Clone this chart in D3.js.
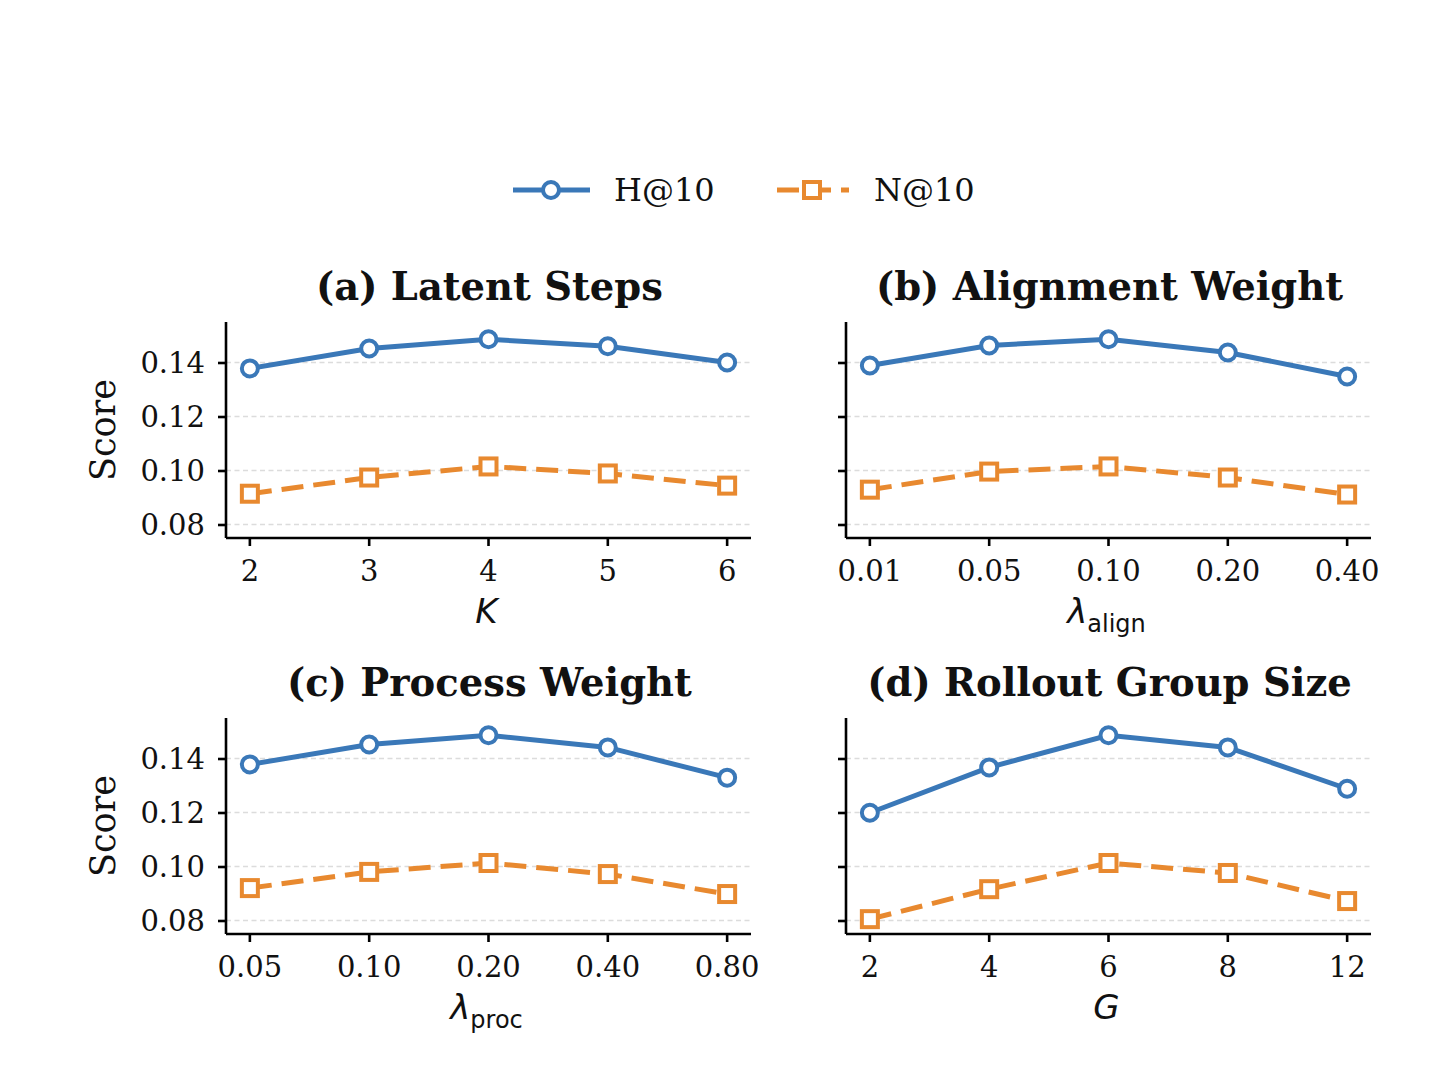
<!DOCTYPE html>
<html><head><meta charset="utf-8">
<script src="https://cdn.jsdelivr.net/npm/d3@7"></script>
<style>body{margin:0;background:#fff;} svg{display:block;}</style>
</head><body>
<svg id="chart" width="1450" height="1070"></svg>
<script>
// ---- data ----
const seriesNames = ["H@10", "N@10"];
const titles = ["(a) Latent Steps", "(b) Alignment Weight", "(c) Process Weight", "(d) Rollout Group Size"];
const xTicksA = ["2", "3", "4", "5", "6"];
const xTicksB = ["0.01", "0.05", "0.10", "0.20", "0.40"];
const xTicksC = ["0.05", "0.10", "0.20", "0.40", "0.80"];
const xTicksD = ["2", "4", "6", "8", "12"];
const hitA = [0.1378, 0.1452, 0.1486, 0.1460, 0.1400];
const ndcgA = [0.0914, 0.0974, 0.1015, 0.0989, 0.0944];
const hitB = [0.1389, 0.1463, 0.1486, 0.1437, 0.1348];
const ndcgB = [0.0929, 0.0996, 0.1015, 0.0974, 0.0911];
const hitC = [0.1378, 0.1452, 0.1486, 0.1441, 0.1329];
const ndcgC = [0.0920, 0.0980, 0.1013, 0.0972, 0.0898];
const hitD = [0.1199, 0.1367, 0.1486, 0.1441, 0.1288];
const ndcgD = [0.0805, 0.0916, 0.1013, 0.0976, 0.0872];
const yTicks = [0.08, 0.10, 0.12, 0.14];
const yDomain = [0.075, 0.155];

const BLUE = "#3a78b8", ORANGE = "#e8892f";
const svg = d3.select("#chart");
const SERIF = "'DejaVu Serif', serif";
const SANS = "'DejaVu Sans', sans-serif";

const panels = [
  {title: titles[0], ticks: xTicksA, h: hitA, n: ndcgA, x0: 226, y0: 322, ylab: true, xlab: ["K", null]},
  {title: titles[1], ticks: xTicksB, h: hitB, n: ndcgB, x0: 846, y0: 322, ylab: false, xlab: ["λ", "align"]},
  {title: titles[2], ticks: xTicksC, h: hitC, n: ndcgC, x0: 226, y0: 718, ylab: true, xlab: ["λ", "proc"]},
  {title: titles[3], ticks: xTicksD, h: hitD, n: ndcgD, x0: 846, y0: 718, ylab: false, xlab: ["G", null]},
];
const W = 525, H = 216;

panels.forEach(p => {
  const g = svg.append("g").attr("transform", `translate(${p.x0},${p.y0})`);
  const xs = d3.scaleLinear().domain([-0.2, p.ticks.length - 1 + 0.2]).range([0, W]);
  const y = d3.scaleLinear().domain(yDomain).range([H, 0]);

  // grid
  g.selectAll(".grid").data(yTicks).enter().append("line")
    .attr("x1", 0).attr("x2", W).attr("y1", d => y(d)).attr("y2", d => y(d))
    .attr("stroke", "#dcdcdc").attr("stroke-width", 1.3).attr("stroke-dasharray", "5,3.5");

  // y axis
  const yAxis = d3.axisLeft(y).tickValues(yTicks).tickSize(8).tickPadding(13)
    .tickFormat(p.ylab ? d3.format(".2f") : () => "");
  const ya = g.append("g").call(yAxis);
  ya.select(".domain").attr("stroke", "#000").attr("stroke-width", 2.6).attr("d", `M0,${H}V0`);
  ya.selectAll(".tick line").attr("stroke", "#000").attr("stroke-width", 2.6);
  ya.selectAll(".tick text").attr("font-family", SERIF).attr("font-size", 29).attr("fill", "#111").attr("dy", "0.36em");

  // x axis
  const xa = g.append("g").attr("transform", `translate(0,${H})`);
  xa.append("path").attr("d", `M0,0H${W}`).attr("stroke", "#000").attr("stroke-width", 2.6);
  const xt = xa.selectAll(".xt").data(p.ticks).enter().append("g")
    .attr("transform", (d, i) => `translate(${xs(i)},0)`);
  xt.append("line").attr("y2", 8).attr("stroke", "#000").attr("stroke-width", 2.6);
  xt.append("text").attr("y", 43).attr("text-anchor", "middle").attr("font-family", SERIF)
    .attr("font-size", 29).attr("fill", "#111").text(d => d);

  // x label
  const xl = g.append("text").attr("x", W / 2 - 2).attr("y", H + 85).attr("text-anchor", "middle")
    .attr("font-family", SANS).attr("font-size", 34).attr("fill", "#111");
  xl.append("tspan").attr("font-style", "italic").text(p.xlab[0]);
  if (p.xlab[1]) xl.append("tspan").attr("font-size", 24).attr("dy", 9).text(p.xlab[1]);

  // y label
  if (p.ylab) {
    g.append("text").attr("transform", `translate(-111,${H / 2}) rotate(-90)`)
      .attr("text-anchor", "middle").attr("font-family", SERIF).attr("font-size", 35)
      .attr("fill", "#111").text("Score");
  }

  // title
  g.append("text").attr("x", W / 2 + 1).attr("y", -22).attr("text-anchor", "middle")
    .attr("font-family", SERIF).attr("font-weight", "bold").attr("font-size", 38.5)
    .attr("fill", "#111").text(p.title);

  // lines
  const line = d3.line().x((d, i) => xs(i)).y(d => y(d));
  g.append("path").datum(p.h).attr("d", line).attr("fill", "none").attr("stroke", BLUE)
    .attr("stroke-width", 5);
  g.append("path").datum(p.n).attr("d", line).attr("fill", "none").attr("stroke", ORANGE)
    .attr("stroke-width", 5).attr("stroke-dasharray", "22,10");
  g.selectAll(".mh").data(p.h).enter().append("circle")
    .attr("cx", (d, i) => xs(i)).attr("cy", d => y(d)).attr("r", 8)
    .attr("fill", "#fff").attr("stroke", BLUE).attr("stroke-width", 4);
  g.selectAll(".mn").data(p.n).enter().append("rect")
    .attr("x", (d, i) => xs(i) - 8).attr("y", d => y(d) - 8).attr("width", 16).attr("height", 16)
    .attr("fill", "#fff").attr("stroke", ORANGE).attr("stroke-width", 4);
});

// legend
const lg = svg.append("g");
lg.append("line").attr("x1", 513).attr("x2", 590).attr("y1", 190).attr("y2", 190)
  .attr("stroke", BLUE).attr("stroke-width", 5);
lg.append("circle").attr("cx", 551).attr("cy", 190).attr("r", 8).attr("fill", "#fff")
  .attr("stroke", BLUE).attr("stroke-width", 4);
lg.append("text").attr("x", 614).attr("y", 201).attr("font-family", SERIF).attr("font-size", 32)
  .attr("fill", "#111").text(seriesNames[0]);
lg.append("line").attr("x1", 777).attr("x2", 849).attr("y1", 190).attr("y2", 190)
  .attr("stroke", ORANGE).attr("stroke-width", 5).attr("stroke-dasharray", "22,10");
lg.append("rect").attr("x", 804).attr("y", 182).attr("width", 16).attr("height", 16)
  .attr("fill", "#fff").attr("stroke", ORANGE).attr("stroke-width", 4);
lg.append("text").attr("x", 874).attr("y", 201).attr("font-family", SERIF).attr("font-size", 32)
  .attr("fill", "#111").text(seriesNames[1]);
</script>
</body></html>
